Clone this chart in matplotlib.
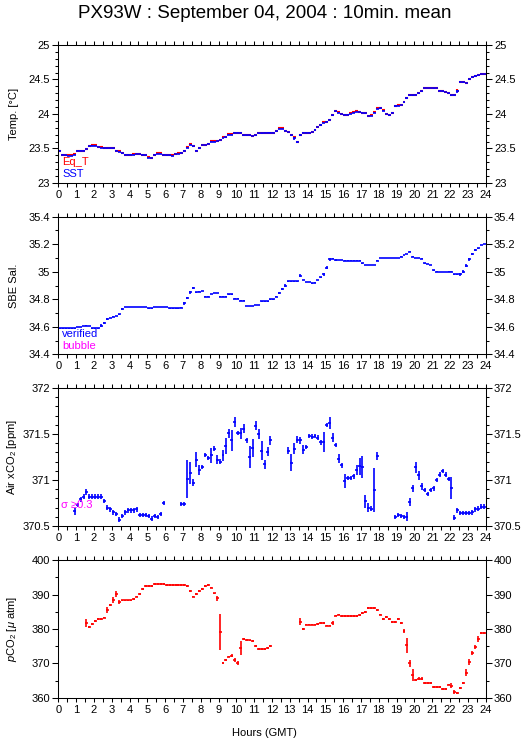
import numpy as np
import matplotlib.pyplot as plt
from matplotlib.ticker import MultipleLocator, FormatStrFormatter

plt.rcParams['font.family'] = ['Liberation Sans', 'DejaVu Sans']
plt.rcParams['mathtext.fontset'] = 'custom'
plt.rcParams['mathtext.rm'] = 'Liberation Sans'
plt.rcParams['mathtext.it'] = 'Liberation Sans:italic'

nan = np.nan

# 10 minute bins, value at the bin centre
hours = (np.arange(144) + 0.5) / 6.0
half_bin = 1.0 / 12.0

# --- Temperature (deg C) ---
sst = [
    23.47, 23.41, 23.40, 23.39, 23.39, 23.41,
    23.47, 23.47, 23.47, 23.49, 23.53, 23.54,
    23.54, 23.52, 23.51, 23.50, 23.50, 23.50,
    23.50, 23.47, 23.45, 23.43, 23.41, 23.41,
    23.41, 23.41, 23.42, 23.42, 23.41, 23.40,
    23.36, 23.36, 23.41, 23.42, 23.42, 23.41,
    23.40, 23.40, 23.39, 23.42, 23.42, 23.44,
    23.47, 23.51, 23.55, 23.53, 23.47, 23.50,
    23.55, 23.55, 23.57, 23.60, 23.60, 23.61,
    23.62, 23.65, 23.66, 23.70, 23.70, 23.73,
    23.73, 23.73, 23.69, 23.69, 23.69, 23.68,
    23.69, 23.72, 23.72, 23.73, 23.73, 23.73,
    23.73, 23.75, 23.78, 23.78, 23.76, 23.74,
    23.69, 23.65, 23.60, 23.69, 23.73, 23.73,
    23.73, 23.74, 23.77, 23.81, 23.84, 23.87,
    23.89, 23.92, 23.98, 24.04, 24.02, 24.00,
    23.99, 23.99, 24.00, 24.02, 24.03, 24.03,
    24.02, 24.01, 23.97, 23.97, 24.02, 24.07,
    24.08, 24.05, 24.00, 23.98, 24.02, 24.11,
    24.12, 24.13, 24.17, 24.23, 24.27, 24.27,
    24.28, 24.30, 24.33, 24.38, 24.38, 24.38,
    24.37, 24.38, 24.34, 24.33, 24.32, 24.30,
    24.27, 24.27, 24.33, 24.47, 24.46, 24.45,
    24.50, 24.53, 24.55, 24.56, 24.58, 24.58,
]
eq_t = [
    23.47, 23.41, 23.40, 23.40, 23.40, 23.42,
    23.47, 23.47, 23.47, 23.49, 23.53, 23.55,
    23.55, 23.52, 23.52, 23.51, 23.51, 23.50,
    23.50, 23.47, 23.46, 23.43, 23.41, 23.41,
    23.41, 23.42, 23.42, 23.42, 23.41, 23.40,
    23.37, 23.36, 23.41, 23.43, 23.43, 23.41,
    23.40, 23.40, 23.40, 23.42, 23.43, 23.44,
    23.47, 23.52, 23.56, 23.54, 23.47, 23.50,
    23.55, 23.55, 23.57, 23.61, 23.61, 23.61,
    23.62, 23.66, 23.66, 23.71, 23.71, 23.73,
    23.73, 23.73, 23.70, 23.70, 23.69, 23.68,
    23.69, 23.73, 23.73, 23.73, 23.73, 23.73,
    23.73, 23.75, 23.79, 23.79, 23.76, 23.74,
    23.69, 23.66, 23.60, 23.69, 23.73, 23.73,
    23.73, 23.74, 23.77, 23.81, 23.84, 23.88,
    23.89, 23.92, 23.99, 24.05, 24.03, 24.00,
    23.99, 23.99, 24.01, 24.03, 24.04, 24.03,
    24.02, 24.01, 23.97, 23.98, 24.03, 24.08,
    24.09, 24.06, 24.00, 23.98, 24.02, 24.12,
    24.13, 24.13, 24.17, 24.23, 24.27, 24.27,
    24.28, 24.30, 24.33, 24.38, 24.38, 24.38,
    24.37, 24.37, 24.34, 24.33, 24.32, 24.30,
    24.27, 24.27, 24.34, 24.47, 24.46, 24.45,
    24.50, 24.53, 24.55, 24.56, 24.58, 24.58,
]
temp_err_default = 0.004
temp_err_big = {43: 0.01, 46: 0.01, 79: 0.02, 80: 0.015, 81: 0.015, 86: 0.01,
                88: 0.01, 90: 0.01, 91: 0.01, 92: 0.01, 113: 0.015, 114: 0.01,
                117: 0.01, 133: 0.01, 134: 0.02, 135: 0.01, 136: 0.01,
                138: 0.01, 140: 0.01}

# --- Salinity ---
sal = [
    34.59, 34.59, 34.59, 34.59, 34.59, 34.59,
    34.60, 34.60, 34.605, 34.61, 34.605, 34.59,
    34.59, 34.59, 34.61, 34.63, 34.655, 34.665,
    34.675, 34.68, 34.69, 34.73, 34.745, 34.745,
    34.745, 34.745, 34.745, 34.745, 34.745, 34.745,
    34.735, 34.735, 34.745, 34.745, 34.745, 34.745,
    34.745, 34.735, 34.735, 34.735, 34.735, 34.74,
    34.77, 34.81, 34.85, 34.88, 34.85, 34.855,
    34.86, 34.82, 34.82, 34.84, 34.845, 34.845,
    34.82, 34.82, 34.82, 34.835, 34.835, 34.805,
    34.805, 34.79, 34.79, 34.75, 34.75, 34.75,
    34.76, 34.76, 34.785, 34.785, 34.785, 34.80,
    34.80, 34.82, 34.845, 34.877, 34.90, 34.93,
    34.93, 34.93, 34.93, 34.97, 34.94, 34.925,
    34.925, 34.915, 34.92, 34.94, 34.96, 34.98,
    35.03, 35.09, 35.095, 35.085, 35.085, 35.085,
    35.08, 35.08, 35.08, 35.08, 35.08, 35.08,
    35.06, 35.05, 35.05, 35.05, 35.05, 35.08,
    35.10, 35.10, 35.10, 35.10, 35.10, 35.10,
    35.10, 35.11, 35.12, 35.13, 35.145, 35.11,
    35.10, 35.10, 35.095, 35.06, 35.055, 35.05,
    35.01, 35.00, 34.997, 34.997, 34.997, 35.00,
    35.00, 34.98, 34.98, 34.98, 35.00, 35.045,
    35.09, 35.13, 35.155, 35.17, 35.195, 35.20,
]
sal_err_default = 0.002
sal_err_big = {14: 0.01, 15: 0.008, 16: 0.006, 21: 0.01, 42: 0.008, 43: 0.01,
               44: 0.008, 45: 0.008, 73: 0.006, 74: 0.006, 75: 0.008, 76: 0.008,
               81: 0.01, 89: 0.01, 90: 0.012, 91: 0.01, 93: 0.008, 135: 0.01,
               136: 0.012, 137: 0.012, 138: 0.01, 139: 0.008, 140: 0.008}

# --- Air xCO2 (ppm) ---
xco2 = [
    nan, nan, nan, nan, nan, 370.66,
    370.73, 370.79, 370.82, 370.87, 370.82, 370.82,
    370.82, 370.82, 370.82, 370.77, 370.70, 370.68,
    370.65, 370.63, 370.57, 370.61, 370.65, 370.67,
    370.67, 370.67, 370.68, 370.62, 370.62, 370.62,
    370.61, 370.58, 370.61, 370.60, 370.63, 370.75,
    nan, nan, nan, nan, nan, 370.74,
    370.74, 371.01, 371.08, 370.97, 371.22, 371.11,
    371.14, 371.27, 371.24, 371.27, 371.34, 371.22,
    371.20, 371.27, 371.37, 371.51, 371.43, 371.63,
    371.51, 371.51, 371.56, 371.43, 371.25, 371.35,
    371.59, 371.50, 371.32, 371.17, 371.31, 371.43,
    nan, nan, nan, nan, nan, 371.32,
    371.19, 371.34, 371.44, 371.43, 371.33, 371.36,
    371.48, 371.47, 371.48, 371.46, 371.41, 371.41,
    371.60, 371.62, 371.46, 371.38, 371.23, 371.16,
    370.99, 371.02, 371.02, 371.04, 371.11, 371.15,
    371.14, 370.77, 370.70, 370.69, 370.89, 371.26,
    nan, nan, nan, nan, nan, 370.60,
    370.62, 370.61, 370.60, 370.60, 370.76, 370.91,
    371.14, 371.05, 370.93, 370.89, 370.85, 370.89,
    370.91, 371.00, 371.06, 371.10, 371.06, 371.01,
    370.91, 370.59, 370.67, 370.64, 370.64, 370.64,
    370.64, 370.65, 370.68, 370.69, 370.71, 370.71,
]
xco2_err_default = 0.025
xco2_err_big = {5: 0.04, 7: 0.03, 9: 0.03, 20: 0.03, 43: 0.21, 44: 0.12, 45: 0.04,
                46: 0.08, 47: 0.05, 51: 0.08, 53: 0.05, 55: 0.06, 56: 0.09,
                57: 0.05, 58: 0.11, 59: 0.05, 61: 0.06, 62: 0.05, 64: 0.12,
                65: 0.10, 66: 0.05, 67: 0.05, 68: 0.10, 69: 0.05, 70: 0.05,
                71: 0.05, 77: 0.04, 78: 0.09, 79: 0.06, 80: 0.04, 81: 0.04,
                82: 0.05, 89: 0.11, 91: 0.07, 92: 0.05, 94: 0.05, 96: 0.08,
                100: 0.05, 101: 0.09, 102: 0.12, 103: 0.07, 104: 0.05,
                106: 0.24, 107: 0.04, 117: 0.05, 118: 0.04, 119: 0.04,
                120: 0.06, 121: 0.05, 122: 0.04, 132: 0.12}

# --- pCO2 (uatm) ---
pco2 = [
    nan, nan, nan, nan, nan, nan,
    nan, nan, nan, 381.8, 380.6, 381.5,
    382.3, 382.8, 382.8, 383.3, 385.5, 386.9,
    388.3, 390.2, 387.8, 388.3, 388.3, 388.3,
    388.3, 388.6, 389.4, 390.2, 391.5, 392.5,
    392.5, 392.5, 393.0, 393.0, 393.0, 393.0,
    392.7, 392.7, 392.7, 392.7, 392.7, 392.7,
    392.7, 392.4, 391.0, 389.4, 390.2, 391.0,
    391.5, 392.5, 392.8, 392.0, 390.3, 388.9,
    379.1, 370.2, 371.0, 372.0, 372.3, 371.1,
    370.2, 374.5, 377.1, 376.8, 376.7, 376.6,
    375.1, 374.3, 374.3, 374.3, 374.5, 375.1,
    nan, nan, nan, nan, nan, nan,
    nan, nan, nan, 382.1, 380.0, 381.3,
    381.3, 381.3, 381.3, 381.5, 381.8, 381.8,
    381.0, 381.0, 381.8, 383.9, 384.2, 383.7,
    383.7, 383.7, 383.7, 383.7, 383.7, 384.0,
    384.7, 385.0, 386.0, 386.0, 386.0, 385.5,
    384.2, 383.0, 383.4, 382.8, 382.1, 382.1,
    382.8, 381.8, 379.4, 375.3, 370.0, 366.6,
    365.3, 365.6, 365.6, 364.4, 364.4, 364.4,
    363.1, 363.1, 363.1, 362.7, 362.7, 363.9,
    363.6, 361.7, 361.4, 362.9, 364.4, 367.3,
    370.5, 373.1, 374.8, 377.1, 378.8, 378.8,
]
pco2_err_default = 0.25
pco2_err_big = {9: 1.1, 16: 1.0, 18: 0.9, 19: 0.8, 20: 0.6, 53: 0.7, 54: 5.3,
                58: 0.5, 59: 0.6, 60: 0.6, 61: 2.0, 81: 1.0, 92: 0.6, 116: 0.6,
                117: 2.2, 118: 0.9, 119: 1.7, 121: 0.5, 122: 0.5, 132: 0.6,
                133: 0.5, 137: 1.0, 138: 0.8, 139: 0.5, 140: 0.6, 141: 0.8}


def errors(default, big):
    e = np.full(144, default)
    for k, v in big.items():
        e[k] = v
    return e


def bars(ax, y, err, color, lw):
    ax.errorbar(hours, y, xerr=half_bin, yerr=err, fmt='none',
                ecolor=color, elinewidth=lw, capsize=0)


def setup(ax, ylim, major, minor, ylabel):
    ax.set_xlim(0, 24)
    ax.set_ylim(*ylim)
    ax.xaxis.set_major_locator(MultipleLocator(1))
    ax.xaxis.set_minor_locator(MultipleLocator(0.5))
    ax.yaxis.set_major_locator(MultipleLocator(major))
    ax.yaxis.set_minor_locator(MultipleLocator(minor))
    ax.yaxis.set_major_formatter(FormatStrFormatter('%g'))
    ax.tick_params(which='both', direction='out', top=True, right=True,
                   labelright=True, labelsize=8, width=0.75, colors='black')
    ax.tick_params(axis='x', which='both', length=3.2, pad=1.5)
    ax.tick_params(axis='y', which='major', length=4.0, pad=2)
    ax.tick_params(axis='y', which='minor', length=2.4)
    for s in ax.spines.values():
        s.set_linewidth(0.75)
    ax.set_ylabel(ylabel, fontsize=8)
    ax.yaxis.set_label_coords(-0.092, 0.5)


fig = plt.figure(figsize=(5.29, 7.39), dpi=100)
left, width, height = 0.1102, 0.8078, 0.1867
bottoms = [0.7524, 0.5203, 0.2882, 0.0555]
axes = [fig.add_axes([left, b, width, height]) for b in bottoms]

ax = axes[0]
bars(ax, eq_t, errors(temp_err_default, temp_err_big), 'red', 1.5)
bars(ax, sst, errors(temp_err_default, temp_err_big), 'blue', 1.2)
setup(ax, (23, 25), 0.5, 0.1, 'Temp. [°C]')
ax.text(0.009, 0.13, 'Eq_T', color='red', fontsize=8, transform=ax.transAxes, va='baseline')
ax.text(0.009, 0.043, 'SST', color='blue', fontsize=8, transform=ax.transAxes, va='baseline')

ax = axes[1]
bars(ax, sal, errors(sal_err_default, sal_err_big), 'blue', 1.2)
setup(ax, (34.4, 35.4), 0.2, 0.1, 'SBE Sal.')
ax.text(0.009, 0.125, 'verified', color='blue', fontsize=8, transform=ax.transAxes, va='baseline')
ax.text(0.009, 0.04, 'bubble', color='magenta', fontsize=8, transform=ax.transAxes, va='baseline')

ax = axes[2]
bars(ax, xco2, errors(xco2_err_default, xco2_err_big), 'blue', 1.2)
setup(ax, (370.5, 372), 0.5, 0.1, 'Air xCO$_2$ [ppm]')
ax.text(0.007, 0.13, 'σ ≥0.3', color='magenta', fontsize=8, transform=ax.transAxes, va='baseline')

ax = axes[3]
bars(ax, pco2, errors(pco2_err_default, pco2_err_big), 'red', 1.2)
setup(ax, (360, 400), 10, 5, '$p$CO$_2$ [$\\mu$ atm]')

fig.text(0.5, 0.0034, 'Hours (GMT)', ha='center', va='baseline', fontsize=8)
fig.text(0.5, 0.975, 'PX93W : September 04, 2004 : 10min. mean', ha='center',
         va='baseline', fontsize=13.5)

fig.savefig('out.png', dpi=100)
